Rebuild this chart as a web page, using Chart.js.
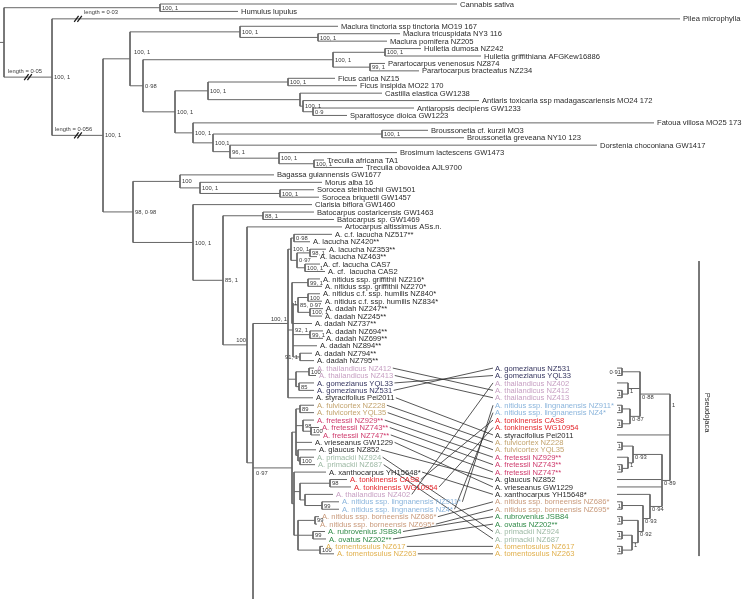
<!DOCTYPE html>
<html>
<head>
<meta charset="utf-8">
<script src="https://cdn.jsdelivr.net/npm/chart.js@4.4.0/dist/chart.umd.min.js"></script>
<style>
  html, body { margin: 0; padding: 0; background: #fff; }
  #wrap { width: 742px; height: 599px; }
</style>
</head>
<body>
<div id="wrap"><canvas id="tree" width="742" height="599"></canvas></div>
<script>
// ---- left tree: tips, top to bottom, one row each ----
const leftTips = [
  'Cannabis sativa', 'Humulus lupulus', 'Pilea microphylla',
  'Maclura tinctoria ssp tinctoria MO19 167', 'Maclura tricuspidata NY3 116', 'Maclura pomifera NZ205',
  'Hulletia dumosa NZ242', 'Hulletia griffithiana AFGKew16886',
  'Parartocarpus venenosus NZ874', 'Parartocarpus bracteatus NZ234',
  'Ficus carica NZ15', 'Ficus insipida MO22 170', 'Castilla elastica GW1238',
  'Antiaris toxicaria ssp madagascariensis MO24 172', 'Antiaropsis decipiens GW1233', 'Sparattosyce dioica GW1223',
  'Fatoua villosa MO25 173', 'Broussonetia cf. kurzii MO3', 'Broussonetia greveana NY10 123',
  'Dorstenia choconiana GW1417', 'Brosimum lactescens GW1473', 'Treculia africana TA1', 'Treculia obovoidea AJL9700',
  'Bagassa guiannensis GW1677', 'Morus alba 16', 'Sorocea steinbachii GW1501', 'Sorocea briquetii GW1457',
  'Clarisia biflora GW1460', 'Batocarpus costaricensis GW1463', 'Batocarpus sp. GW1469', 'Artocarpus altissimus ASs.n.',
  'A. c.f. lacucha NZ517**', 'A. lacucha NZ420**', 'A. lacucha NZ353**', 'A. lacucha NZ463**',
  'A. cf. lacucha CAS7', 'A. cf.  lacucha CAS2',
  'A. nitidus ssp. griffithii NZ216*', 'A. nitidus ssp. griffithii NZ270*',
  'A. nitidus c.f. ssp. humilis NZ840*', 'A. nitidus c.f. ssp. humilis NZ834*',
  'A. dadah NZ247**', 'A. dadah NZ245**', 'A. dadah NZ737**', 'A. dadah NZ694**',
  'A. dadah NZ699**', 'A. dadah NZ894**', 'A. dadah NZ794**', 'A. dadah NZ795**',
  'A. thailandicus NZ412', 'A. thailandicus NZ413', 'A. gomezianus YQL33', 'A. gomezianus NZ531',
  'A. styracifolius Pei2011', 'A. fulvicortex NZ228', 'A. fulvicortex YQL35',
  'A. fretessii NZ929**', 'A. fretessii NZ743**', 'A. fretessii NZ747**',
  'A. vrieseanus GW1229', 'A. glaucus NZ852', 'A. primackii NZ924', 'A. primackii NZ687',
  'A. xanthocarpus YH15648*', 'A. tonkinensis CAS8', 'A. tonkinensis WG10954', 'A. thailandicus NZ402',
  'A. nitidus ssp. lingnanensis NZ911*', 'A. nitidus ssp. lingnanensis NZ4*',
  'A. nitidus ssp. borneensis NZ686*', 'A. nitidus ssp. borneensis NZ695*',
  'A. rubrovenius JSB84', 'A. ovatus NZ202**', 'A. tomentosulus NZ617', 'A. tomentosulus NZ263'
];

// distance at which each left tip branch ends
const leftTipX = [
  457, 238, 680, 338, 400, 387, 421, 481, 385, 419,
  335, 357, 382, 479, 414, 347, 654, 428, 464, 597,
  397, 324, 363, 274, 322, 314, 319, 312, 314, 334,
  342, 332, 310, 326, 317, 320, 325, 320, 322, 320,
  322, 323, 322, 312, 323, 323, 317, 312, 314, 314,
  316, 314, 314, 313, 314, 314, 314, 319, 320, 312,
  316, 314, 315, 326, 347, 351, 333, 339, 339, 319,
  317, 325, 326, 323, 334
];

// the clade that runs on below the figure (tip -1)
const belowRow = 80.5;
const belowX = 300;

// internal nodes: [id, distance, support, children]; numbers are tip rows
const leftNodes = [
  ['CH', 160, '100, 1', [0, 1]],
  ['M2', 318, '100, 1', [4, 5]],
  ['M', 240, '100, 1', [3, 'M2']],
  ['HU', 385, '100, 1', [6, 7]],
  ['PA', 370, '99, 1', [8, 9]],
  ['H', 333, '100, 1', ['HU', 'PA']],
  ['FI', 288, '100, 1', [10, 11]],
  ['AS', 313, '0·9', [14, 15]],
  ['AN', 303, '100, 1', [13, 'AS']],
  ['CA', 300, '', [12, 'AN']],
  ['G', 208, '100, 1', ['FI', 'CA']],
  ['BR', 382, '100, 1', [17, 18]],
  ['T', 314, '100, 1', [21, 22]],
  ['TR', 279, '100, 1', [20, 'T']],
  ['N', 230, '96, 1', [19, 'TR']],
  ['L', 213, '100,1', ['BR', 'N']],
  ['K', 193, '100, 1', [16, 'L']],
  ['F', 175, '100, 1', ['G', 'K']],
  ['E', 143, '0·98', ['H', 'F']],
  ['C', 130, '100, 1', ['M', 'E']],
  ['SB', 280, '100, 1', [25, 26]],
  ['SO', 200, '100, 1', [24, 'SB']],
  ['MO', 180, '100', [23, 'SO']],
  ['BA', 263, '88, 1', [28, 29]],
  ['L1', 294, '0·98', [31, 32]],
  ['L3', 310, '98, 1', [33, 34]],
  ['L4', 305, '100, 1', [35, 36]],
  ['L2', 297, '0·97', ['L3', 'L4']],
  ['LAC', 291, '100, 1', ['L1', 'L2']],
  ['NG1', 308, '99, 1', [37, 38]],
  ['NG2', 308, '100', [39, 40]],
  ['D1', 310, '100, 1', [41, 42]],
  ['X1', 298, '85, 0·97', ['NG2', 'D1']],
  ['X2', 292, '1', ['NG1', 'X1', 43]],
  ['D3', 310, '99, 1', [44, 45]],
  ['D4', 300, '91, 1', [47, 48]],
  ['X3', 293, '92, 1', ['X2', 'D3', 46, 'D4']],
  ['TH', 309, '100', [49, 50]],
  ['GO', 299, '85', [51, 52]],
  ['TG', 296, '', ['TH', 'GO']],
  ['S', 288, '100, 1', ['LAC', 'X3', 'TG', 53]],
  ['FU', 300, '89', [54, 55]],
  ['FR2', 311, '100', [57, 58]],
  ['FR', 303, '98', [56, 'FR2']],
  ['PR', 300, '100', [61, 62]],
  ['WG', 298, '', [60, 'PR']],
  ['W1', 296, '', ['FU', 'FR', 59, 'WG']],
  ['TO', 330, '98', [64, 65]],
  ['LI', 322, '99', [67, 68]],
  ['W4', 305, '', [66, 'LI']],
  ['W3', 300, '', ['TO', 'W4']],
  ['BO', 315, '99', [69, 70]],
  ['RO', 313, '99', [71, 72]],
  ['TM', 320, '100', [73, 74]],
  ['W5', 298, '', ['BO', 'RO', 'TM']],
  ['W2', 294, '', [63, 'W3', 'W5']],
  ['W', 292, '', ['W1', 'W2']],
  ['R2', 253, '0·97', ['S', 'W', -1]],
  ['R1', 247, '100', [30, 'R2']],
  ['Q', 223, '85, 1', ['BA', 'R1']],
  ['P', 193, '100, 1', [27, 'Q']],
  ['D', 133, '98, 0·98', ['MO', 'P']],
  ['B', 103, '100, 1', ['C', 'D']],
  ['A', 52, '100, 1', [2, 'B']],
  ['root', 4, '', ['CH', 'A']]
];

// ---- right tree (mirrored), tips start at row 49 ----
const rightTips = [
  'A. gomezianus NZ531', 'A. gomezianus YQL33', 'A. thailandicus NZ402', 'A. thailandicus NZ412',
  'A. thailandicus NZ413', 'A. nitidus ssp. lingnanensis NZ911*', 'A. nitidus ssp. lingnanensis NZ4*',
  'A. tonkinensis CAS8', 'A. tonkinensis WG10954', 'A. styracifolius Pei2011',
  'A. fulvicortex NZ228', 'A. fulvicortex YQL35', 'A. fretessii NZ929**', 'A. fretessii NZ743**',
  'A. fretessii NZ747**', 'A. glaucus NZ852', 'A. vrieseanus GW1229', 'A. xanthocarpus YH15648*',
  'A. nitidus ssp. borneensis NZ686*', 'A. nitidus ssp. borneensis NZ695*', 'A. rubrovenius JSB84',
  'A. ovatus NZ202**', 'A. primackii NZ924', 'A. primackii NZ687', 'A. tomentosulus NZ617', 'A. tomentosulus NZ263'
];
const rightFirstRow = 49;
const rightTipX = 617;
const rightLabelX = 495;

const rightNodes = [
  ['r1', 622, '0·91', [0, 1]],
  ['r2', 622, '1', [3, 4]],
  ['r3', 628, '1', [2, 'r2']],
  ['r5', 622, '1', [5, 6]],
  ['r6', 622, '1', [7, 8]],
  ['r7', 630, '0·87', ['r5', 'r6']],
  ['r4', 640, '0·88', ['r1', 'r3', 'r7']],
  ['r10', 622, '1', [10, 11]],
  ['r11', 622, '1', [13, 14]],
  ['r12', 628, '1', [12, 'r11']],
  ['r13', 633, '0·93', ['r10', 'r12']],
  ['n1', 622, '1', [24, 25]],
  ['n2', 622, '1', [22, 23]],
  ['n3', 632, '1', ['n2', 'n1']],
  ['n4', 622, '1', [20, 21]],
  ['n5', 638, '0·92', ['n4', 'n3']],
  ['n6', 622, '1', [18, 19]],
  ['n7', 643, '0·93', ['n6', 'n5']],
  ['n8', 650, '0·94', [17, 'n7']],
  ['r9', 662, '0·89', ['r13', 15, 16, 'n8']],
  ['rt', 670, '1', ['r4', 9, 'r9']]
];

// long branches shortened in the figure
const breakMarks = [
  { node: 'A', at: 28, text: 'length = 0·05', textX: 8 },
  { node: 2, at: 78, text: 'length = 0·03', textX: 84 },
  { node: 'B', at: 78, text: 'length = 0·056', textX: 55 }
];

const cladeName = 'Pseudojaca';
const cladeRows = [34.6, 74.3];
const cladeX = 699;

// ---- styling ----
const ROW_TOP = 4, ROW_STEP = 7.43;
const TIP_FONT = '7.6px "Liberation Sans", Arial, sans-serif';
const SUP_FONT = '5.8px "Liberation Sans", Arial, sans-serif';
const BRANCH_COLOR = '#666666';
const LINK_COLOR = '#2b2b2b';
const speciesColors = {
  thailandicus: '#c7a0c3', gomezianus: '#35355f', fulvicortex: '#c3a46e', fretessii: '#cf3a6c',
  primackii: '#9db9a4', tonkinensis: '#e3262c', lingnanensis: '#8bb5dc', borneensis: '#c99a7b',
  rubrovenius: '#2f8a47', ovatus: '#2f8a47', tomentosulus: '#e1b04d'
};
const labelPlace = { S: 'above', R1: 'above', D4: 'left', R2: 'below', C: 'up', rt: 'top' };

function tipColor(name) {
  for (const k in speciesColors) if (name.indexOf(k) >= 0) return speciesColors[k];
  return '#2a2a2a';
}

// ---- layout of both trees ----
function layout(nodes, tipRow, tipX) {
  const byId = {};
  nodes.forEach(n => { byId[n[0]] = n; });
  const rowOf = k => {
    if (typeof k === 'number') return tipRow(k);
    const kids = byId[k][3];
    return (rowOf(kids[0]) + rowOf(kids[kids.length - 1])) / 2;
  };
  const xOf = k => typeof k === 'number' ? tipX(k) : byId[k][1];
  const segs = [];
  nodes.forEach(n => {
    const kids = n[3];
    segs.push([n[1], rowOf(kids[0]), n[1], rowOf(kids[kids.length - 1])]);
    kids.forEach(k => segs.push([n[1], rowOf(k), xOf(k), rowOf(k)]));
  });
  return { byId, rowOf, xOf, segs };
}

const left = layout(leftNodes, i => i < 0 ? belowRow : i, i => i < 0 ? belowX : leftTipX[i]);
const right = layout(rightNodes, i => rightFirstRow + i, () => rightTipX);
left.segs.push([0, left.rowOf('root'), 4, left.rowOf('root')]);

// tanglegram links: from end of left name to start of right name
const measure = document.createElement('canvas').getContext('2d');
measure.font = TIP_FONT;
const linkSegs = [];
rightTips.forEach((name, j) => {
  const i = leftTips.indexOf(name);
  if (i < 0) return;
  const x0 = leftTipX[i] + 3 + measure.measureText(name).width + 1.5;
  linkSegs.push([x0, i, rightLabelX - 2, rightFirstRow + j]);
});

function toPoints(segs) {
  const pts = [];
  segs.forEach(s => { pts.push({ x: s[0], y: s[1] }, { x: s[2], y: s[3] }, { x: NaN, y: NaN }); });
  return pts;
}

const lineSet = (data, color, width) => ({
  data, showLine: true, borderColor: color, borderWidth: width,
  pointRadius: 0, spanGaps: false, tension: 0
});

const textPlugin = {
  id: 'treeText',
  afterDatasetsDraw(chart) {
    const ctx = chart.ctx, xs = chart.scales.x, ys = chart.scales.y;
    const px = v => xs.getPixelForValue(v), py = v => ys.getPixelForValue(v);
    ctx.save();
    ctx.textBaseline = 'middle';

    // tip names
    ctx.font = TIP_FONT;
    leftTips.forEach((name, i) => {
      ctx.fillStyle = tipColor(name);
      ctx.fillText(name, px(leftTipX[i]) + 3, py(i) + 0.5);
    });
    rightTips.forEach((name, j) => {
      ctx.fillStyle = tipColor(name);
      ctx.fillText(name, px(rightLabelX), py(rightFirstRow + j) + 0.5);
    });

    // support values
    ctx.font = SUP_FONT;
    ctx.fillStyle = '#3a3a3a';
    leftNodes.forEach(n => {
      if (!n[2]) return;
      const x = px(n[1]), y = py(left.rowOf(n[0]));
      const place = labelPlace[n[0]];
      if (place === 'above') { ctx.textAlign = 'right'; ctx.fillText(n[2], x - 1, y - 4); }
      else if (place === 'left') { ctx.textAlign = 'right'; ctx.fillText(n[2], x - 2, y); }
      else if (place === 'below') { ctx.textAlign = 'left'; ctx.fillText(n[2], x + 3, y + 11); }
      else if (place === 'up') { ctx.textAlign = 'left'; ctx.fillText(n[2], x + 4, y - 6); }
      else { ctx.textAlign = 'left'; ctx.fillText(n[2], x + 2, y + 0.5); }
    });
    rightNodes.forEach(n => {
      const x = px(n[1]), y = py(right.rowOf(n[0]));
      const pair = n[3].every(k => typeof k === 'number');
      if (pair) { ctx.textAlign = 'right'; ctx.fillText(n[2], x - 1, y + 0.5); }
      else if (labelPlace[n[0]] === 'top') {
        ctx.textAlign = 'left';
        ctx.fillText(n[2], x + 2, py(right.rowOf(n[3][0])) + 11);
      }
      else { ctx.textAlign = 'left'; ctx.fillText(n[2], x + 2, y + 3); }
    });

    // shortened branches
    breakMarks.forEach(b => {
      const y = py(typeof b.node === 'number' ? b.node : left.rowOf(b.node));
      const x = px(b.at);
      ctx.textAlign = 'left';
      ctx.fillStyle = '#3a3a3a';
      ctx.fillText(b.text, px(b.textX), y - 6);
      ctx.strokeStyle = '#1a1a1a';
      ctx.lineWidth = 1.3;
      [-1.6, 1.6].forEach(o => {
        ctx.beginPath();
        ctx.moveTo(x + o - 2.2, y + 3);
        ctx.lineTo(x + o + 2.2, y - 3);
        ctx.stroke();
      });
    });

    // clade name
    ctx.font = TIP_FONT;
    ctx.fillStyle = '#2a2a2a';
    ctx.translate(px(cladeX) + 8, py((cladeRows[0] + cladeRows[1]) / 2) + 4);
    ctx.rotate(Math.PI / 2);
    ctx.textAlign = 'center';
    ctx.fillText(cladeName, 0, 0);
    ctx.restore();
  }
};

new Chart(document.getElementById('tree'), {
  type: 'scatter',
  data: {
    datasets: [
      lineSet(toPoints(left.segs), BRANCH_COLOR, 1),
      lineSet(toPoints(right.segs), BRANCH_COLOR, 1),
      lineSet(toPoints(linkSegs), LINK_COLOR, 0.8),
      lineSet(toPoints([[cladeX, cladeRows[0], cladeX, cladeRows[1]]]), BRANCH_COLOR, 1)
    ]
  },
  options: {
    responsive: false,
    animation: false,
    events: [],
    layout: { padding: 0 },
    plugins: { legend: { display: false }, tooltip: { enabled: false } },
    scales: {
      x: { type: 'linear', display: false, min: 0, max: 742 },
      y: { type: 'linear', display: false, reverse: true,
           min: -ROW_TOP / ROW_STEP, max: (599 - ROW_TOP) / ROW_STEP }
    }
  },
  plugins: [textPlugin]
});
</script>
</body>
</html>
